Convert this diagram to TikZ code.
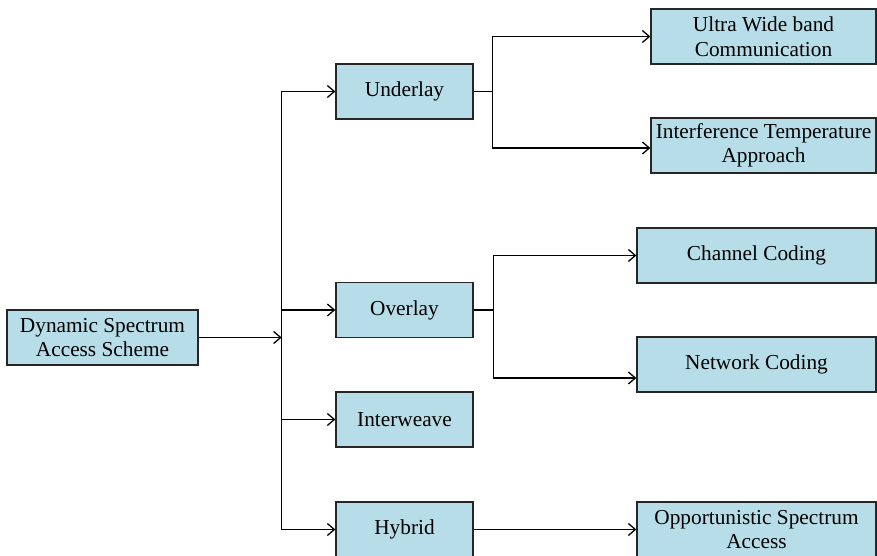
\documentclass[tikz,border=0pt]{standalone}
\usepackage{fontspec}
\setmainfont{Liberation Serif}
\usepackage{xcolor}
\usepackage{tikz}
\usetikzlibrary{arrows.meta,calc}
\definecolor{boxblue}{RGB}{183,221,232}
\tikzset{
  blk/.style={draw=black!85, fill=boxblue, line width=1.3pt, align=center, inner sep=0pt,
    minimum height=55, font=\fontsize{21.3}{24.5}\selectfont},
  midbox/.style={blk, minimum width=137},
  leafbox/.style={blk, minimum width=239}
}

\begin{document}
\begin{tikzpicture}[x=1pt, y=-1pt, >={Straight Barb[length=7pt,width=12pt]}, line width=1.3pt]
    \useasboundingbox (0,0) rectangle (877,556);
    \node[blk, minimum width=191] (dsa) at (102.5,337.5) {Dynamic Spectrum\\Access Scheme};
    \node[midbox] (under) at (404.5,91.5) {Underlay};
    \node[midbox] (over) at (404.5,310) {Overlay};
    \node[midbox] (inter) at (404.5,419.5) {Interweave};
    \node[midbox] (hyb) at (404.5,529.5) {Hybrid};
    \node[leafbox, minimum width=225] (uwb) at (763.5,36.5) {Ultra Wide band\\Communication};
    \node[leafbox, minimum width=225] (itemp) at (763.5,145.5) {Interference Temperature\\Approach};
    \node[leafbox] (chan) at (756.5,255.5) {Channel Coding};
    \node[leafbox] (net) at (756.5,364.5) {Network Coding};
    \node[leafbox] (opp) at (756.5,529.5) {Opportunistic Spectrum\\Access};
    \coordinate (trunk) at ($(dsa.east)+(83,0)$);
    \draw[->] (dsa.east) -- (trunk);
    \draw (trunk |- under.west) -- (trunk |- hyb.west);
    \foreach \n in {under,over,inter,hyb}
      \draw[->] (trunk |- \n.west) -- (\n.west);
    \draw (under.east) -- ++(19,0) coordinate (ub);
    \draw[->] (ub) |- (uwb.west);
    \draw[->] (ub) |- ([yshift=-2.5pt]itemp.west);
    \draw (over.east) -- ++(20,0) coordinate (ob);
    \draw[->] (ob) |- (chan.west);
    \draw[->] (ob) |- ([yshift=-13.5pt]net.west);
    \draw[->] (hyb.east) -- (opp.west);
  \end{tikzpicture}
\end{document}
